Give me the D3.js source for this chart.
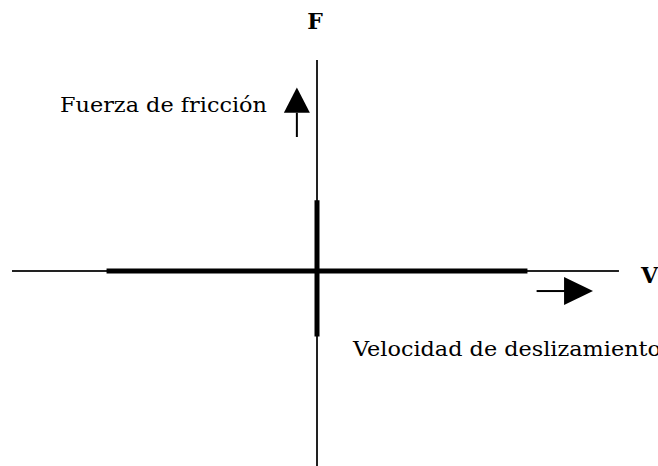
<!DOCTYPE html>
<html>
<head>
<meta charset="utf-8">
<script src="https://cdn.jsdelivr.net/npm/d3@7"></script>
<style>
  body { margin: 0; background: #fff; }
  svg { display: block; }
</style>
</head>
<body>
<div id="chart"></div>
<script>
let width = 658,
    height = 466;

// axis labels
const axisNames = ["F", "V"];
const axisTitles = ["Fuerza de fricción", "Velocidad de deslizamiento"];

// friction law: F = 0 while sliding, any F in [fMin, fMax] at v = 0
const slideV = [-0.69, 0.69];   // sliding branch (velocity range)
const slideF = [0, 0];
const stickV = [0, 0];          // sticking branch (force range)
const stickF = [-0.31, 0.335];

// axis extents in data units
const axisV = [-1, 1];
const axisF = [-1, 1];

const svg = d3.select("#chart")
  .append("svg")
  .attr("width", width)
  .attr("height", height);

let x = d3.scaleLinear()
  .domain([-1, 1])
  .range([12, 622]);

let y = d3.scaleLinear()
  .domain([-1, 1])
  .range([482, 60]);

let line = d3.line()
  .x(d => x(d[0]))
  .y(d => y(d[1]));

// thin axes
svg.append("path")
  .datum([[axisV[0], 0], [0.99, 0]])
  .attr("d", line)
  .attr("stroke", "#222")
  .attr("stroke-width", 2)
  .attr("fill", "none");

svg.append("path")
  .datum([[0, axisF[1]], [0, axisF[0]]])
  .attr("d", line)
  .attr("stroke", "#222")
  .attr("stroke-width", 2)
  .attr("fill", "none");

// thick branches
svg.append("path")
  .datum(slideV.map((v, i) => [v, slideF[i]]))
  .attr("d", line)
  .attr("stroke", "#000")
  .attr("stroke-width", 5)
  .attr("fill", "none");

svg.append("path")
  .datum(stickF.map((f, i) => [stickV[i], f]))
  .attr("d", line)
  .attr("stroke", "#000")
  .attr("stroke-width", 5)
  .attr("fill", "none");

// direction arrows
let ux = x(-0.066);
svg.append("line")
  .attr("x1", ux).attr("x2", ux)
  .attr("y1", y(0.635)).attr("y2", y(0.75))
  .attr("stroke", "#000").attr("stroke-width", 2);
svg.append("path")
  .attr("d", `M${ux},${y(0.87)} L${ux + 13},${y(0.75)} L${ux - 13},${y(0.75)} Z`)
  .attr("fill", "#000");

let ry = y(-0.095);
svg.append("line")
  .attr("x1", x(0.72)).attr("x2", x(0.815))
  .attr("y1", ry).attr("y2", ry)
  .attr("stroke", "#000").attr("stroke-width", 2);
svg.append("path")
  .attr("d", `M${x(0.905)},${ry} L${x(0.81)},${ry - 14} L${x(0.81)},${ry + 14} Z`)
  .attr("fill", "#000");

// labels
svg.append("text")
  .text(axisNames[0])
  .attr("x", 315).attr("y", 29)
  .attr("text-anchor", "middle")
  .attr("font-family", "DejaVu Serif")
  .attr("font-weight", "bold")
  .attr("font-size", 22);

svg.append("text")
  .text(axisNames[1])
  .attr("x", 641).attr("y", 283)
  .attr("font-family", "DejaVu Serif")
  .attr("font-weight", "bold")
  .attr("font-size", 22);

svg.append("text")
  .text(axisTitles[0])
  .attr("x", 60).attr("y", 112)
  .attr("font-family", "DejaVu Serif")
  .attr("font-size", 21)
  .attr("textLength", 207)
  .attr("lengthAdjust", "spacingAndGlyphs");

svg.append("text")
  .text(axisTitles[1])
  .attr("x", 353).attr("y", 356)
  .attr("font-family", "DejaVu Serif")
  .attr("font-size", 21)
  .attr("textLength", 308)
  .attr("lengthAdjust", "spacingAndGlyphs");
</script>
</body>
</html>
